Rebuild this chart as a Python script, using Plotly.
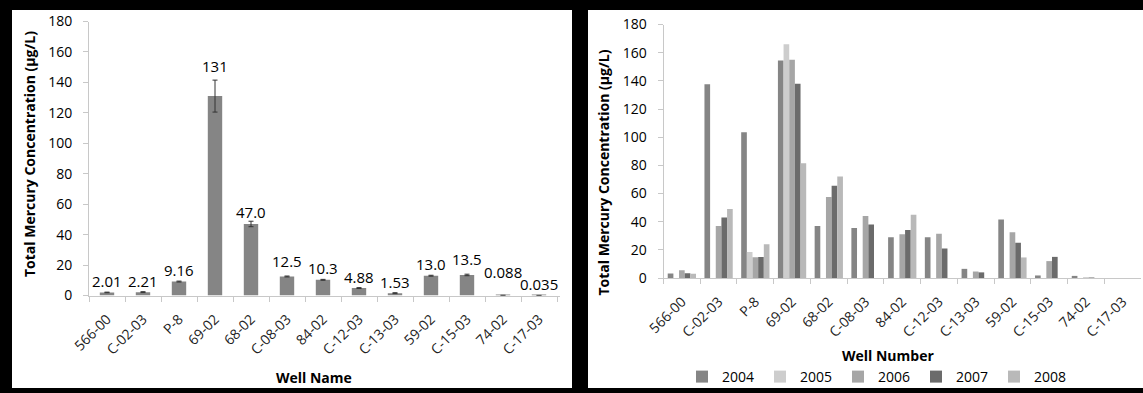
import plotly.graph_objects as go

# ---------------- data ----------------
wells = ["566-00", "C-02-03", "P-8", "69-02", "68-02", "C-08-03", "84-02",
         "C-12-03", "C-13-03", "59-02", "C-15-03", "74-02", "C-17-03"]

# left panel: mean total mercury (ug/L) with error bars
mean_conc = [2.01, 2.21, 9.16, 131, 47.0, 12.5, 10.3, 4.88, 1.53, 13.0, 13.5, 0.088, 0.035]
mean_labels = ["2.01", "2.21", "9.16", "131", "47.0", "12.5", "10.3", "4.88",
               "1.53", "13.0", "13.5", "0.088", "0.035"]
mean_err = [0.2, 0.3, 0.3, 10.5, 1.8, 0.3, 0.3, 0.3, 0.3, 0.3, 0.5, 0.02, 0.02]

# right panel: yearly values (ug/L)
years = ["2004", "2005", "2006", "2007", "2008"]
hg_2004 = [3.2, 137.5, 103.5, 154.5, 37.0, 35.5, 29.0, 29.0, 6.5, 41.5, 1.8, 1.5, None]
hg_2005 = [None, None, 18.5, 166.0, None, None, None, None, None, None, None, None, None]
hg_2006 = [5.5, 37.0, 14.8, 155.0, 57.5, 44.0, 31.0, 31.5, 4.6, 32.5, 12.0, 0.3, None]
hg_2007 = [3.3, 43.0, 15.0, 138.0, 65.5, 38.0, 34.0, 21.0, 4.0, 25.0, 15.0, 0.3, None]
hg_2008 = [3.0, 49.0, 24.0, 81.5, 72.0, None, 45.0, None, None, 14.6, None, None, None]
yearly = [hg_2004, hg_2005, hg_2006, hg_2007, hg_2008]

# ---------------- style ----------------
W, H = 1143, 393
FONT = "Open Sans"
year_colors = ["#858585", "#cdcdcd", "#a6a6a6", "#6b6b6b", "#b9b9b9"]
label_nudge = [0, 0, 0, 3, -2, 4, 0, 0, 0, 0, 4, 12, 0]  # px, manual label offsets
AXIS_COL = "#c8c8c8"


def fx(p):
    return p / W


def fy(p):
    return 1 - p / H


fig = go.Figure()

fig.add_trace(go.Bar(
    x=wells, y=mean_conc, width=0.4, showlegend=False,
    marker=dict(color="#858585", line=dict(width=0)),
    error_y=dict(type="data", array=mean_err, color="#333333", thickness=1, width=2.5),
    xaxis="x", yaxis="y"))

for yr, vals, col in zip(years, yearly, year_colors):
    fig.add_trace(go.Bar(
        x=wells, y=vals, name=yr,
        marker=dict(color=col, line=dict(width=0)),
        xaxis="x2", yaxis="y2"))

annotations = []
for w, v, e, lab, n in zip(wells, mean_conc, mean_err, mean_labels, label_nudge):
    annotations.append(dict(
        x=w, y=v + e, xref="x", yref="y", text=lab, showarrow=False,
        xanchor="center", yanchor="middle", yshift=11 + n,
        font=dict(family=FONT, size=15, color="#000000")))

title_font = dict(family=FONT, size=14, color="#000000", weight="bold")
common_ann = dict(xref="paper", yref="paper", showarrow=False, xanchor="center", yanchor="middle")
annotations += [
    dict(common_ann, x=fx(29), y=fy(154), textangle=-90,
         text="Total Mercury Concentration (µg/L)", font=title_font),
    dict(common_ann, x=fx(314), y=fy(377), text="Well Name", font=title_font),
    dict(common_ann, x=fx(603), y=fy(172.5), textangle=-90,
         text="Total Mercury Concentration (µg/L)", font=title_font),
    dict(common_ann, x=fx(887.5), y=fy(355), text="Well Number", font=title_font),
]

shapes = [
    dict(type="rect", xref="paper", yref="paper", x0=fx(12), x1=fx(572),
         y0=fy(388), y1=fy(10), fillcolor="white", line=dict(width=0), layer="below"),
    dict(type="rect", xref="paper", yref="paper", x0=fx(588), x1=1.0,
         y0=fy(388), y1=fy(10), fillcolor="white", line=dict(width=0), layer="below"),
]

tick_font = dict(family=FONT, size=14, color="#000000")
xcommon = dict(type="category", tickangle=-45, tickson="boundaries", ticks="outside",
               ticklen=5, tickcolor=AXIS_COL, showline=True, linecolor=AXIS_COL,
               linewidth=1, showgrid=False, zeroline=False, automargin=False,
               tickfont=dict(tick_font, color="#222222"), ticklabelstandoff=9)
ycommon = dict(range=[0, 180], dtick=20, ticks="outside", ticklen=5, tickcolor=AXIS_COL,
               showline=True, linecolor=AXIS_COL, linewidth=1, showgrid=False,
               zeroline=False, automargin=False, tickfont=tick_font,
               ticklabelstandoff=8)

fig.update_layout(
    width=W, height=H, margin=dict(l=0, r=0, t=0, b=0, autoexpand=False),
    paper_bgcolor="#000000", plot_bgcolor="#ffffff",
    barmode="group", bargap=0.23, bargroupgap=0,
    xaxis=dict(xcommon, domain=[fx(89), fx(560)], anchor="y"),
    yaxis=dict(ycommon, domain=[fy(295.5), fy(21.5)], anchor="x"),
    xaxis2=dict(xcommon, domain=[fx(663.5), fx(1141)], anchor="y2"),
    yaxis2=dict(ycommon, domain=[fy(278), fy(24.5)], anchor="x2"),
    showlegend=True,
    legend=dict(orientation="h", x=fx(682), y=fy(377), xanchor="left", yanchor="middle",
                entrywidth=33, entrywidthmode="pixels", bgcolor="rgba(0,0,0,0)",
                font=dict(family=FONT, size=14, color="#000000"), traceorder="normal"),
    annotations=annotations, shapes=shapes,
)

fig.write_html("out.html", config={"displayModeBar": False},
               post_script="document.body.style.margin='0px';")
